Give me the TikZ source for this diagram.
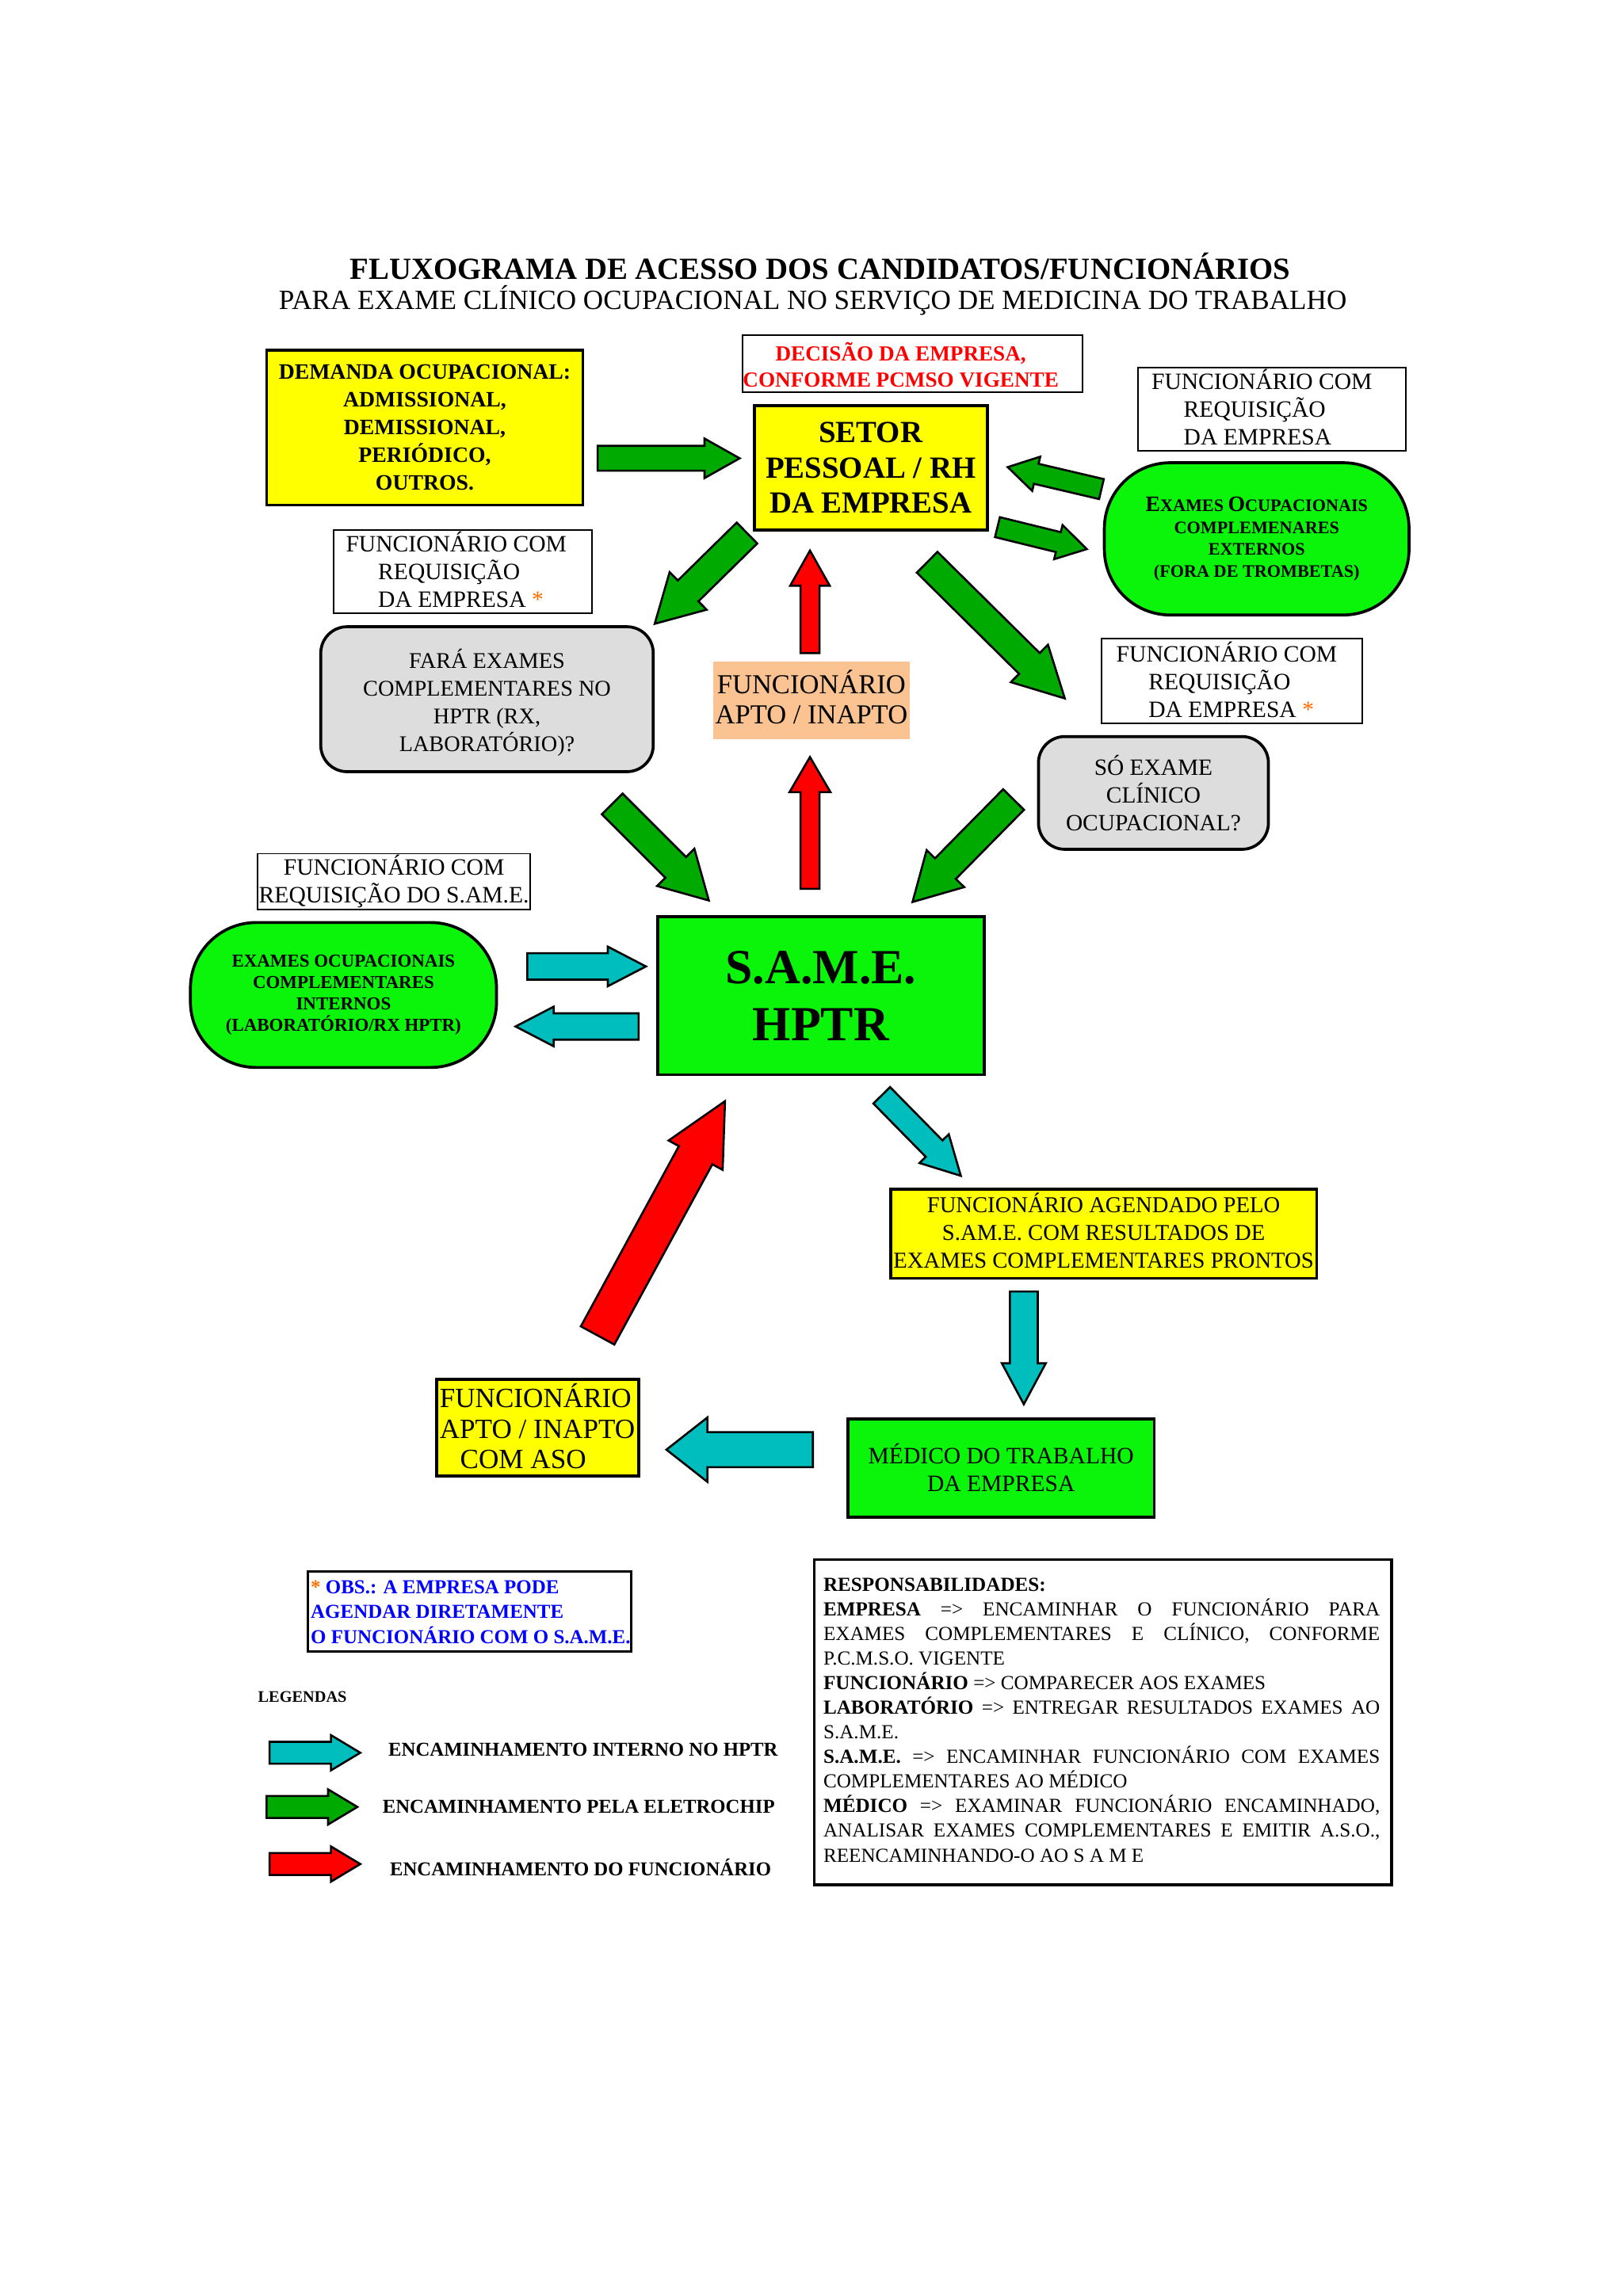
\documentclass[tikz,border=0pt]{standalone}
\usepackage{fontspec}
\usepackage{graphicx}
\setmainfont{Liberation Serif}
\definecolor{yel}{RGB}{255,255,0}
\definecolor{lgreen}{RGB}{10,245,10}
\definecolor{agreen}{RGB}{0,170,0}
\definecolor{acyan}{RGB}{0,190,190}
\definecolor{ared}{RGB}{255,0,0}
\definecolor{lgray}{RGB}{221,221,221}
\definecolor{peach}{RGB}{250,195,145}
\definecolor{bluet}{RGB}{0,0,255}
\definecolor{redt}{RGB}{255,0,0}
\definecolor{orng}{RGB}{255,110,0}
\newcommand\fsz[2]{\fontsize{#1}{#2}\selectfont}
\newcommand\inil[1]{{\fontsize{15}{15}\selectfont #1}}
% block arrow: color, tail x, tail y, tip x, tip y, head width, shaft width, head length
\newcommand\barr[8]{%
  \pgfmathsetmacro\bdx{#4-#2}%
  \pgfmathsetmacro\bdy{#3-#5}%
  \pgfmathsetmacro\bang{atan2(\bdy,\bdx)}%
  \pgfmathsetmacro\blen{veclen(\bdx,\bdy)}%
  \pgfmathsetmacro\bneck{\blen-#8}%
  \begin{scope}[shift={(#2,#3)}, rotate=\bang]
    \filldraw[fill=#1, draw=black, line width=1.4pt, line join=miter]
      (0,{#7/2}) -- (\bneck,{#7/2}) -- (\bneck,{#6/2}) -- (\blen,0) --
      (\bneck,{-#6/2}) -- (\bneck,{-#7/2}) -- (0,{-#7/2}) -- cycle;
  \end{scope}}
\begin{document}
\begin{tikzpicture}[x=1pt,y=-1pt,
  box/.style={draw=black, line width=2pt, inner sep=0pt, align=center},
  wbox/.style={draw=black, line width=1pt, fill=white, inner sep=0pt},
  lbl/.style={inner sep=0pt, align=left, anchor=west}]
\useasboundingbox[fill=white] (0,0) rectangle (1108,1568);

% titles
\node[font=\bfseries\fsz{21}{25}] (t1) at (560,182) {FLUXOGRAMA DE ACESSO DOS CANDIDATOS/FUNCIONÁRIOS};
\node[font=\fsz{19}{23}] (t2) at (555,205) {PARA EXAME CLÍNICO OCUPACIONAL NO SERVIÇO DE MEDICINA DO TRABALHO};

% top row
\node[box, fill=yel, minimum width=216, minimum height=106, font=\bfseries\fsz{15}{19}] (demanda) at (290,292)
  {DEMANDA OCUPACIONAL:\\ADMISSIONAL,\\DEMISSIONAL,\\PERIÓDICO,\\OUTROS.};
\node[wbox, minimum width=232, minimum height=39] (decisao) at (623,248.5) {};
\node[font=\bfseries\fsz{14.7}{18}, text=redt, align=center, inner sep=0pt] (decisaot) at (615,249)
  {DECISÃO DA EMPRESA,\\CONFORME PCMSO VIGENTE};
\node[box, fill=yel, minimum width=159, minimum height=85, font=\bfseries\fsz{21}{24}] (setor) at (594.5,319.5)
  {SETOR\\PESSOAL / RH\\DA EMPRESA};
\node[wbox, minimum width=183, minimum height=57] (req1) at (868.5,279.5) {};
\node[lbl, font=\fsz{16}{19}] (req1t) at (786,278)
  {FUNCIONÁRIO COM\\\hspace*{22pt}REQUISIÇÃO\\\hspace*{22pt}DA EMPRESA};
\node[box, fill=lgreen, rounded corners=45, minimum width=208, minimum height=104, font=\bfseries\fsz{12}{15}] (extex) at (858,368)
  {\inil{E}XAMES \inil{O}CUPACIONAIS\\COMPLEMENARES\\EXTERNOS\\(FORA DE TROMBETAS)};

% second row
\node[wbox, minimum width=176, minimum height=57] (req2) at (316,390.5) {};
\node[lbl, font=\fsz{16}{19}] (req2t) at (236,389)
  {FUNCIONÁRIO COM\\\hspace*{22pt}REQUISIÇÃO\\\hspace*{22pt}DA EMPRESA \textcolor{orng}{*}};
\node[box, fill=lgray, rounded corners=18, minimum width=227, minimum height=99] (fara) at (332.5,477.5) {};
\node[inner sep=0pt, align=center, font=\fsz{15.3}{19}] (farat) at (332.5,480)
  {FARÁ EXAMES\\COMPLEMENTARES NO\\HPTR (RX,\\LABORATÓRIO)?};
\node[fill=peach, minimum width=134, minimum height=53, inner sep=0pt] (apto1) at (554,478.5) {};
\node[inner sep=0pt, align=center, font=\fsz{18.7}{21}] (apto1t) at (554,476)
  {FUNCIONÁRIO\\APTO / INAPTO};
\node[wbox, minimum width=178, minimum height=58] (req3) at (841,465) {};
\node[lbl, font=\fsz{16}{19}] (req3t) at (762,464)
  {FUNCIONÁRIO COM\\\hspace*{22pt}REQUISIÇÃO\\\hspace*{22pt}DA EMPRESA \textcolor{orng}{*}};
\node[box, fill=lgray, rounded corners=18, minimum width=157, minimum height=77, font=\fsz{15.9}{19}] (so) at (787.5,541.5)
  {SÓ EXAME\\CLÍNICO\\OCUPACIONAL?};

% S.A.M.E. row
\node[wbox, minimum width=186, minimum height=38, font=\fsz{16}{19}, align=center] (req4) at (269,602)
  {FUNCIONÁRIO COM\\REQUISIÇÃO DO S.AM.E.};
\node[box, fill=lgreen, rounded corners=45, minimum width=209, minimum height=99, font=\bfseries\fsz{12.4}{14.7}] (intex) at (234.5,679.5)
  {EXAMES OCUPACIONAIS\\COMPLEMENTARES\\INTERNOS\\(LABORATÓRIO/RX HPTR)};
\node[box, fill=lgreen, minimum width=223, minimum height=108, font=\bfseries\fsz{33.5}{39}] (same) at (560.5,680)
  {S.A.M.E.\\HPTR};

% lower part
\node[box, fill=yel, minimum width=291, minimum height=61] (agend) at (753.5,842.5) {};
\node[inner sep=0pt, align=center, font=\fsz{15.5}{19}] (agendt) at (753.5,840.5)
  {FUNCIONÁRIO AGENDADO PELO\\S.AM.E. COM RESULTADOS DE\\EXAMES COMPLEMENTARES PRONTOS};
\node[box, fill=lgreen, minimum width=209, minimum height=67, font=\fsz{16}{19}] (medico) at (683.5,1002.5)
  {MÉDICO DO TRABALHO\\DA EMPRESA};
\node[box, fill=yel, minimum width=138, minimum height=66] (apto2) at (367,975) {};
\node[lbl, font=\fsz{19}{21}] (apto2t) at (300,974)
  {FUNCIONÁRIO\\APTO / INAPTO\\\hspace*{14pt}COM ASO};

% block arrows
\barr{agreen}{408}{313}{505}{313}{27}{17}{24}
\barr{agreen}{752}{334}{688}{319}{24}{14}{20}
\barr{agreen}{681}{360}{742}{375}{24}{14}{20}
\barr{agreen}{510}{364}{447}{426}{36}{20}{32}
\barr{ared}{553}{446}{553}{376}{27}{13}{24}
\barr{agreen}{633}{384}{727}{477}{36}{20}{34}
\barr{agreen}{418}{549}{484}{615}{36}{20}{32}
\barr{ared}{553}{607}{553}{517}{28}{13}{24}
\barr{agreen}{692}{546}{623}{616}{36}{20}{32}
\barr{acyan}{360}{660}{441}{660}{27}{18}{26}
\barr{acyan}{436}{701}{352}{701}{27}{18}{26}
\barr{ared}{408}{912}{495}{752}{42}{26}{42}
\barr{acyan}{602}{748}{656}{803}{28}{16}{26}
\barr{acyan}{699}{882}{699}{959}{30}{19}{28}
\barr{acyan}{555}{990}{455}{990}{44}{24}{28}

% note
\node[wbox, line width=1.6pt, minimum width=221, minimum height=55] (obs) at (320.5,1100.5) {};
\node[lbl, font=\bfseries\fsz{13.5}{17}, text=bluet] (obst) at (212,1101)
  {\textcolor{orng}{*} OBS.: A EMPRESA PODE\\AGENDAR DIRETAMENTE\\O FUNCIONÁRIO COM O S.A.M.E.};

% legend
\node[lbl, font=\bfseries\fsz{11}{13}] (leg) at (176,1159) {LEGENDAS};
\barr{acyan}{184}{1197}{246}{1197}{24}{15}{20}
\barr{agreen}{182}{1234}{244}{1234}{24}{15}{20}
\barr{ared}{184}{1273}{246}{1273}{24}{15}{20}
\node[lbl, font=\bfseries\fsz{13.4}{16}] (l1) at (265,1195) {ENCAMINHAMENTO INTERNO NO HPTR};
\node[lbl, font=\bfseries\fsz{13.4}{16}] (l2) at (261,1234) {ENCAMINHAMENTO PELA ELETROCHIP};
\node[lbl, font=\bfseries\fsz{13.4}{16}] (l3) at (266,1275) {ENCAMINHAMENTO DO FUNCIONÁRIO};

% responsibilities
\node[draw=black, line width=2pt, fill=white, minimum width=394, minimum height=222, inner sep=0pt] (resp) at (753,1176) {};
\node[inner sep=0pt, align=left, anchor=north west, font=\fsz{13.6}{16.8}] (respt) at (562,1077.5)
  {\textbf{RESPONSABILIDADES:}\\
   \makebox[380pt][s]{\textbf{EMPRESA} => ENCAMINHAR O FUNCIONÁRIO PARA}\\
   \makebox[380pt][s]{EXAMES COMPLEMENTARES E CLÍNICO, CONFORME}\\
   P.C.M.S.O. VIGENTE\\
   \textbf{FUNCIONÁRIO} => COMPARECER AOS EXAMES\\
   \makebox[380pt][s]{\textbf{LABORATÓRIO} => ENTREGAR RESULTADOS EXAMES AO}\\
   S.A.M.E.\\
   \makebox[380pt][s]{\textbf{S.A.M.E.} => ENCAMINHAR FUNCIONÁRIO COM EXAMES}\\
   COMPLEMENTARES AO MÉDICO\\
   \makebox[380pt][s]{\textbf{MÉDICO} => EXAMINAR FUNCIONÁRIO ENCAMINHADO,}\\
   \makebox[380pt][s]{ANALISAR EXAMES COMPLEMENTARES E EMITIR A.S.O.,}\\
   REENCAMINHANDO-O AO S A M E};
\end{tikzpicture}
\end{document}
